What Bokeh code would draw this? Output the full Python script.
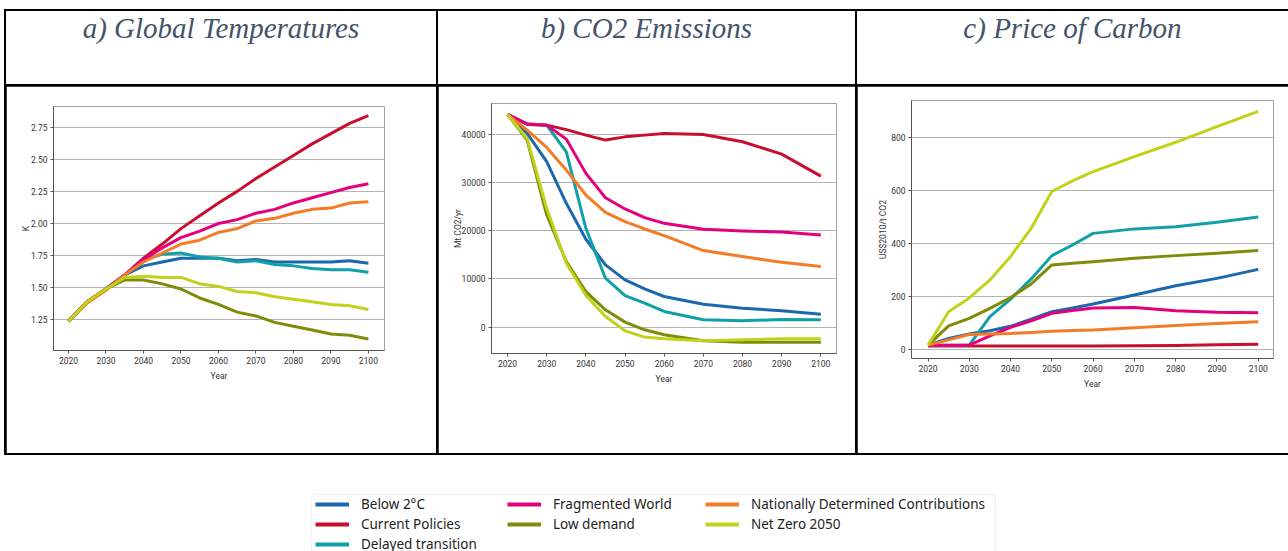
from bokeh.plotting import figure
from bokeh.models import (GridBox, Legend, LegendItem, FixedTicker, Range1d, Div,
                          BoxAnnotation, PrintfTickFormatter)
from bokeh.layouts import column
from bokeh.embed import file_html
from bokeh.resources import INLINE

# ---------------- data ----------------
scenarios = ["Below 2°C", "Current Policies", "Delayed transition", "Fragmented World",
             "Low demand", "Nationally Determined Contributions", "Net Zero 2050"]
colors = ["#1a68ad", "#c8102e", "#11a0a8", "#e4007c", "#7f8c0a", "#f47c26", "#c2d11b"]

panel_titles = ["a) Global Temperatures", "b) CO2 Emissions", "c) Price of Carbon"]
y_labels = ["K", "Mt CO2/yr", "US$2010/t CO2"]
x_label = "Year"
x_ticks = [2020, 2030, 2040, 2050, 2060, 2070, 2080, 2090, 2100]

# a) Global temperatures (K)
years_temp = [2020, 2025, 2030, 2035, 2040, 2045, 2050, 2055, 2060, 2065, 2070, 2075, 2080, 2085, 2090, 2095, 2100]
temp_below2 = [1.24, 1.39, 1.49, 1.60, 1.67, 1.70, 1.73, 1.73, 1.73, 1.71, 1.72, 1.70, 1.70, 1.70, 1.70, 1.71, 1.69]
temp_current = [1.24, 1.39, 1.49, 1.60, 1.73, 1.84, 1.96, 2.06, 2.16, 2.25, 2.35, 2.44, 2.53, 2.62, 2.70, 2.78, 2.84]
temp_delayed = [1.24, 1.39, 1.49, 1.60, 1.72, 1.76, 1.77, 1.74, 1.73, 1.70, 1.71, 1.68, 1.67, 1.65, 1.64, 1.64, 1.62]
temp_fragmented = [1.24, 1.39, 1.49, 1.60, 1.72, 1.81, 1.89, 1.94, 2.00, 2.03, 2.08, 2.11, 2.16, 2.20, 2.24, 2.28, 2.31]
temp_lowdemand = [1.24, 1.39, 1.49, 1.56, 1.56, 1.53, 1.49, 1.42, 1.37, 1.31, 1.28, 1.23, 1.20, 1.17, 1.14, 1.13, 1.10]
temp_ndc = [1.24, 1.38, 1.48, 1.60, 1.70, 1.77, 1.84, 1.87, 1.93, 1.96, 2.02, 2.04, 2.08, 2.11, 2.12, 2.16, 2.17]
temp_netzero = [1.24, 1.39, 1.49, 1.58, 1.59, 1.58, 1.58, 1.53, 1.51, 1.47, 1.46, 1.43, 1.41, 1.39, 1.37, 1.36, 1.33]
temp_ticks = [1.25, 1.50, 1.75, 2.00, 2.25, 2.50, 2.75]

# b) CO2 emissions (Mt CO2/yr)
years_co2 = [2020, 2025, 2030, 2035, 2040, 2045, 2050, 2055, 2060, 2070, 2080, 2090, 2100]
co2_below2 = [44150, 40210, 34340, 25700, 18240, 12920, 9810, 7940, 6360, 4770, 3940, 3390, 2690]
co2_current = [44150, 42200, 41930, 41000, 39860, 38830, 39500, 39860, 40200, 40000, 38480, 35920, 31360]
co2_delayed = [44150, 42070, 41930, 36400, 20520, 10160, 6560, 4970, 3250, 1520, 1310, 1590, 1520]
co2_fragmented = [44150, 42140, 41930, 39030, 31920, 26870, 24530, 22730, 21550, 20310, 19970, 19760, 19140]
co2_lowdemand = [44150, 38830, 23280, 13610, 7390, 3590, 1040, -550, -1590, -2830, -3110, -3110, -3110]
co2_ndc = [44150, 40900, 37300, 32600, 27430, 23830, 21900, 20380, 19000, 15890, 14650, 13470, 12570]
co2_netzero = [44150, 39170, 24660, 13260, 6560, 2210, -760, -2070, -2420, -2830, -2630, -2420, -2420]
co2_ticks = [0, 10000, 20000, 30000, 40000]

# c) Price of carbon (US$2010/t CO2)
years_price = [2020, 2025, 2030, 2035, 2040, 2045, 2050, 2055, 2060, 2070, 2080, 2090, 2100]
price_below2 = [15, 40, 57, 69, 86, 113, 141, 155, 170, 204, 239, 267, 301]
price_current = [12, 12, 12, 12, 12, 12, 12, 12, 12, 13, 14, 16, 18]
price_delayed = [15, 15, 15, 123, 189, 265, 353, 393, 437, 454, 462, 479, 499]
price_fragmented = [15, 15, 15, 50, 82, 107, 135, 146, 155, 157, 145, 139, 137]
price_lowdemand = [15, 88, 116, 154, 195, 246, 318, 324, 330, 343, 353, 362, 372]
price_ndc = [15, 35, 55, 57, 59, 63, 67, 70, 72, 81, 89, 97, 103]
price_netzero = [15, 141, 193, 261, 350, 456, 595, 635, 670, 727, 781, 840, 898]
price_ticks = [0, 200, 400, 600, 800]

temp_series = [temp_below2, temp_current, temp_delayed, temp_fragmented, temp_lowdemand, temp_ndc, temp_netzero]
co2_series = [co2_below2, co2_current, co2_delayed, co2_fragmented, co2_lowdemand, co2_ndc, co2_netzero]
price_series = [price_below2, price_current, price_delayed, price_fragmented, price_lowdemand, price_ndc, price_netzero]

TICK_FONT = "Roboto"
TITLE_FONT = "Liberation Serif"
LEGEND_FONT = "Noto Sans"


def title_cell(text, width):
    return Div(text=text, width=width, height=73, margin=0,
               styles={"background-color": "white", "font-family": TITLE_FONT,
                       "font-style": "italic", "font-size": "29px", "color": "#44546a",
                       "text-align": "center", "line-height": "34px",
                       "white-space": "nowrap", "overflow": "hidden"})


def chart_cell(width, years, series, xr, yr, borders, yticks, ylabel, ystand, yfmt=None):
    l, r, t, b = borders
    p = figure(width=width, height=367, x_range=Range1d(*xr), y_range=Range1d(*yr),
               min_border_left=l, min_border_right=r, min_border_top=t, min_border_bottom=b,
               output_backend="svg", toolbar_location=None)
    p.background_fill_color = "white"
    p.border_fill_color = "white"
    p.outline_line_color = "#a0a0a0"
    p.outline_line_width = 1
    p.xgrid.visible = False
    p.ygrid.grid_line_color = "#b4b4b4"
    p.ygrid.grid_line_width = 1
    p.xaxis.ticker = FixedTicker(ticks=x_ticks)
    p.yaxis.ticker = FixedTicker(ticks=yticks)
    if yfmt:
        p.yaxis.formatter = PrintfTickFormatter(format=yfmt)
    for ax in (p.xaxis[0], p.yaxis[0]):
        ax.axis_line_color = "#555555"
        ax.major_tick_line_color = "#555555"
        ax.major_tick_out = 3
        ax.major_tick_in = 0
        ax.minor_tick_line_color = None
        ax.major_label_standoff = 3
        ax.major_label_text_font = TICK_FONT
        ax.major_label_text_font_size = "8.5px"
        ax.major_label_text_color = "#333333"
        ax.axis_label_text_font = TICK_FONT
        ax.axis_label_text_font_size = "8.5px"
        ax.axis_label_text_font_style = "normal"
        ax.axis_label_text_color = "#333333"
        ax.axis_label_standoff = 4
    p.yaxis[0].axis_label_standoff = ystand
    p.xaxis.axis_label = x_label
    p.yaxis.axis_label = ylabel
    for vals, c in zip(series, colors):
        p.line(years, vals, line_color=c, line_width=3, line_join="round")
    return p


t1 = title_cell(panel_titles[0], 430)
t2 = title_cell(panel_titles[1], 417)
t3 = title_cell(panel_titles[2], 431)

c1 = chart_cell(430, years_temp, temp_series, (2016, 2104.3), (1.011, 2.911),
                (47, 52, 20, 103), temp_ticks, y_labels[0], -3, "%.2f")
c2 = chart_cell(417, years_co2, co2_series, (2015.9, 2104), (-5471, 46425),
                (53, 19, 17, 100), co2_ticks, y_labels[1], -4)
c3 = chart_cell(431, years_price, price_series, (2016, 2103.7), (-35.5, 938.8),
                (54, 15, 14, 95), price_ticks, y_labels[2], 0)

grid = GridBox(children=[(t1, 0, 0), (t2, 0, 1), (t3, 0, 2),
                         (column(c1), 1, 0), (column(c2), 1, 1), (column(c3), 1, 2)],
               spacing=2,
               styles={"background-color": "black", "padding": "2px 0px 2px 2px",
                       "margin-top": "9px", "margin-left": "4px"})

# ---------------- legend strip ----------------
LH = 96
lg = figure(width=1288, height=LH, x_range=Range1d(0, 1), y_range=Range1d(0, 1),
            min_border=0, x_axis_location=None, y_axis_location=None,
            output_backend="svg", toolbar_location=None)
lg.outline_line_color = None
lg.grid.visible = False
lg.background_fill_color = "white"
lg.border_fill_color = "white"
renderers = [lg.line(years_temp, vals, line_color=c, line_width=4)
             for vals, c in zip(temp_series, colors)]

lg.add_layout(BoxAnnotation(left=311, right=995, top=LH - 39, bottom=-30,
                            left_units="screen", right_units="screen",
                            top_units="screen", bottom_units="screen",
                            fill_color=None, line_color="#cfcfcf", line_width=1,
                            border_radius=4))

groups = [([0, 1, 2], 315), ([3, 4], 507), ([5, 6], 705)]
for idx, x0 in groups:
    n = len(idx)
    leg = Legend(items=[LegendItem(label=scenarios[i], renderers=[renderers[i]]) for i in idx],
                 location=(x0, LH - 39 - 20 * n), orientation="vertical",
                 border_line_color=None, background_fill_alpha=0,
                 padding=0, margin=0, spacing=0,
                 glyph_width=34, glyph_height=20, label_height=20, label_standoff=12,
                 label_text_font=LEGEND_FONT, label_text_font_size="13.5px",
                 label_text_color="#222222")
    lg.add_layout(leg)

layout = column(grid, lg, spacing=0)

open("out.html", "w").write(file_html(layout, INLINE))
